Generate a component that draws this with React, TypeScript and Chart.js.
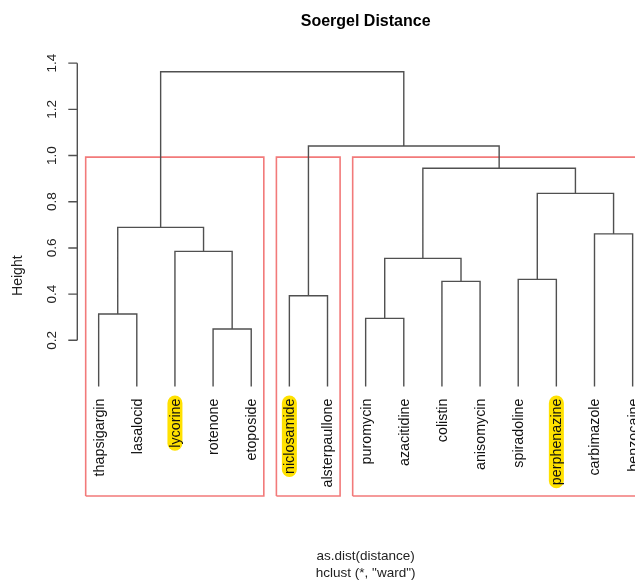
import { useEffect, useRef } from 'react';
import { Chart, registerables } from 'chart.js';
Chart.register(...registerables);

const leafLabels = ['thapsigargin', 'lasalocid', 'lycorine', 'rotenone', 'etoposide', 'niclosamide', 'alsterpaullone', 'puromycin', 'azacitidine', 'colistin', 'anisomycin', 'spiradoline', 'perphenazine', 'carbimazole', 'benzocaine'];
const highlighted = ['lycorine', 'niclosamide', 'perphenazine'];
// hclust-style merge table: negative = leaf position (1-based), positive = earlier merge step
const mergeLeft = [-4, -8, -1, -6, -10, -12, 2, -3, -14, 3, 6, 7, 4, 10];
const mergeRight = [-5, -9, -2, -7, -11, -13, 5, 1, -15, 8, 9, 11, 12, 13];
const mergeHeights = [0.249, 0.295, 0.314, 0.393, 0.455, 0.464, 0.555, 0.585, 0.661, 0.689, 0.836, 0.945, 1.041, 1.363];
const yTicks = [0.2, 0.4, 0.6, 0.8, 1.0, 1.2, 1.4];
const clusterSizes = [5, 2, 8];
const titleText = 'Soergel Distance';
const yTitle = 'Height';
const subLines = ['as.dist(distance)', 'hclust (*, "ward")'];

const FONT = "'Liberation Sans', Arial, sans-serif";

function buildTree() {
  const nx: number[] = [];
  const ny: number[] = [];
  const pts: any[] = [];
  const pos = (ref: number) => (ref < 0 ? { x: -ref, y: 0 } : { x: nx[ref - 1], y: ny[ref - 1] });
  for (let i = 0; i < mergeHeights.length; i++) {
    const a = pos(mergeLeft[i]);
    const b = pos(mergeRight[i]);
    const h = mergeHeights[i];
    nx.push((a.x + b.x) / 2);
    ny.push(h);
    pts.push({ x: a.x, y: a.y }, { x: a.x, y: h }, { x: b.x, y: h }, { x: b.x, y: b.y }, { x: b.x, y: null });
  }
  return pts;
}

function buildRects(yMin: number) {
  const n = mergeHeights.length;
  const k = clusterSizes.length;
  const top = (mergeHeights[n - k + 1] + mergeHeights[n - k]) / 2;
  const pts: any[] = [];
  let start = 1;
  for (const s of clusterSizes) {
    const end = start + s - 1;
    const l = start - 1 + 0.66;
    const r = end + 0.33;
    pts.push({ x: l, y: yMin }, { x: l, y: top }, { x: r, y: top }, { x: r, y: yMin }, { x: l, y: yMin }, { x: l, y: null });
    start = end + 1;
  }
  return pts;
}

const Y_MIN = -0.474;
const Y_MAX = 1.434;
const X_MIN = 0.44;
const X_MAX = leafLabels.length + 0.56;

const decor = {
  id: 'decor',
  afterDraw(chart: any) {
    const ctx = chart.ctx;
    const xs = chart.scales.x;
    const ys = chart.scales.y;
    const area = chart.chartArea;
    ctx.save();
    ctx.fillStyle = '#000';
    // title
    ctx.font = `bold 16px ${FONT}`;
    ctx.textAlign = 'center';
    ctx.textBaseline = 'middle';
    const cx = (area.left + area.right) / 2;
    ctx.fillText(titleText, cx, 21.5);
    // subtitle
    ctx.font = `13.5px ${FONT}`;
    ctx.fillStyle = '#222';
    ctx.fillText(subLines[0], cx, 556);
    ctx.fillText(subLines[1], cx, 573);
    // y axis
    const ax = area.left;
    const yTop = ys.getPixelForValue(yTicks[yTicks.length - 1]);
    const yBot = ys.getPixelForValue(yTicks[0]);
    ctx.strokeStyle = '#505050';
    ctx.lineWidth = 1.4;
    ctx.beginPath();
    ctx.moveTo(ax, yTop);
    ctx.lineTo(ax, yBot);
    for (const t of yTicks) {
      const py = ys.getPixelForValue(t);
      ctx.moveTo(ax, py);
      ctx.lineTo(ax - 9, py);
    }
    ctx.stroke();
    ctx.font = `13.5px ${FONT}`;
    ctx.fillStyle = '#222';
    for (const t of yTicks) {
      const py = ys.getPixelForValue(t);
      ctx.save();
      ctx.translate(52, py);
      ctx.rotate(-Math.PI / 2);
      ctx.textAlign = 'center';
      ctx.textBaseline = 'middle';
      ctx.fillText(t.toFixed(1), 0, 0);
      ctx.restore();
    }
    // y title
    ctx.save();
    ctx.translate(18, (area.top + area.bottom) / 2);
    ctx.rotate(-Math.PI / 2);
    ctx.font = `14px ${FONT}`;
    ctx.textAlign = 'center';
    ctx.textBaseline = 'middle';
    ctx.fillText(yTitle, 0, 0);
    ctx.restore();
    // leaf labels
    ctx.font = `14.3px ${FONT}`;
    const yLab = ys.getPixelForValue(0) + 12;
    leafLabels.forEach((lab, i) => {
      const px = xs.getPixelForValue(i + 1);
      ctx.save();
      ctx.translate(px, yLab);
      ctx.rotate(-Math.PI / 2);
      const w = ctx.measureText(lab).width;
      if (highlighted.includes(lab)) {
        ctx.fillStyle = '#FFE100';
        ctx.beginPath();
        ctx.roundRect(-w - 3, -7.5, w + 6, 15, 7.5);
        ctx.fill();
      }
      ctx.fillStyle = '#111';
      ctx.textAlign = 'right';
      ctx.textBaseline = 'middle';
      ctx.fillText(lab, 0, 1);
      ctx.restore();
    });
    ctx.restore();
  },
};

export default function App() {
  const ref = useRef<HTMLCanvasElement>(null);
  useEffect(() => {
    const canvas = ref.current!;
    const chart = new Chart(canvas, {
      type: 'scatter',
      data: {
        datasets: [
          {
            data: buildTree(),
            showLine: true,
            borderColor: '#505050',
            borderWidth: 1.4,
            pointRadius: 0,
            spanGaps: false,
            clip: false,
          } as any,
          {
            data: buildRects(Y_MIN),
            showLine: true,
            borderColor: '#F27A7A',
            borderWidth: 1.6,
            pointRadius: 0,
            spanGaps: false,
            clip: false,
          } as any,
        ],
      },
      options: {
        animation: false,
        responsive: false,
        devicePixelRatio: 1,
        layout: { padding: { left: 77.3, right: 6, top: 55.3, bottom: 85 } },
        plugins: { legend: { display: false }, tooltip: { enabled: false }, title: { display: false } },
        events: [],
        scales: {
          x: { type: 'linear', min: X_MIN, max: X_MAX, display: false },
          y: { type: 'linear', min: Y_MIN, max: Y_MAX, display: false },
        },
      },
      plugins: [decor],
    });
    return () => chart.destroy();
  }, []);
  return (
    <div style={{ position: 'fixed', left: 0, top: 0, width: 635, height: 581, overflow: 'hidden', background: '#fff' }}>
      <canvas ref={ref} width={660} height={581} style={{ width: 660, height: 581, display: 'block' }} />
    </div>
  );
}
